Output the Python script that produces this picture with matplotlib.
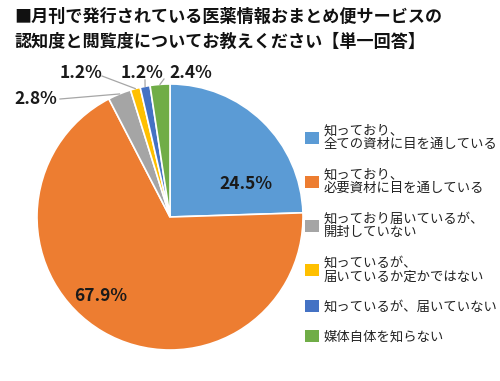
import matplotlib
matplotlib.use("Agg")
import matplotlib.pyplot as plt
from matplotlib.patches import Patch
import numpy as np

plt.rcParams['font.family'] = ['Noto Sans CJK JP', 'DejaVu Sans']

# data
labels = ['知っており、\n全ての資材に目を通している',
          '知っており、\n必要資材に目を通している',
          '知っており届いているが、\n開封していない',
          '知っているが、\n届いているか定かではない',
          '知っているが、届いていない',
          '媒体自体を知らない']
values = [24.5, 67.9, 2.8, 1.2, 1.2, 2.4]
colors = ['#5B9BD5', '#ED7D31', '#A5A5A5', '#FFC000', '#4472C4', '#70AD47']
title = '■月刊で発行されている医薬情報おまとめ便サービスの\n認知度と閲覧度についてお教えください【単一回答】'

W, H = 500, 381
fig = plt.figure(figsize=(W / 100, H / 100), dpi=100)
ax = fig.add_axes([0, 0, 1, 1])

cx, cy, r = 170, H - 217, 133
wedges, _ = ax.pie(values, colors=colors, startangle=90, counterclock=False,
                   center=(cx, cy), radius=r, frame=True,
                   wedgeprops=dict(edgecolor='white', linewidth=1.2))
ax.set_xlim(0, W)
ax.set_ylim(0, H)
ax.set_aspect('equal')
ax.axis('off')

# inner labels (pixel positions from top-left)
inner = {0: (246, 184), 1: (101, 296)}
for i, (px, py) in inner.items():
    ax.text(px, H - py, f'{values[i]}%', ha='center', va='center',
            fontsize=12.5, fontweight='bold', color='#1a1a1a')

# outside labels with leader lines
outer = {2: (36, 99), 3: (81, 73), 4: (142, 73), 5: (191, 73)}
text_end = {2: (60, 99), 3: (102, 76), 4: (145, 80), 5: (164, 79)}
cum = np.cumsum([0] + values)
for i, (px, py) in outer.items():
    mid = np.deg2rad(90 - 3.6 * (cum[i] + values[i] / 2))
    ex, ey = cx + r * np.cos(mid), cy + r * np.sin(mid)
    tx, ty = text_end[i]
    ax.plot([tx, ex], [H - ty, ey], color='#A6A6A6', lw=0.9)
    ax.text(px, H - py, f'{values[i]}%', ha='center', va='center',
            fontsize=12.5, fontweight='bold', color='#1a1a1a')

fig.text(14 / W, 1 - 8 / H, title, ha='left', va='top', fontsize=12.3,
         fontweight='bold', linespacing=1.5, color='#111111')

handles = [Patch(facecolor=c, edgecolor='none') for c in colors]
leg = fig.legend(handles, labels, loc='upper left', bbox_to_anchor=(300 / W, 1 - 118 / H),
                 frameon=False, fontsize=9.6, handlelength=1.0, handleheight=1.0,
                 handletextpad=0.4, labelspacing=1.2, borderaxespad=0)
for t in leg.get_texts():
    t.set_color('#222222')
    t.set_linespacing(1.0)

fig.savefig('out.png', dpi=100)
